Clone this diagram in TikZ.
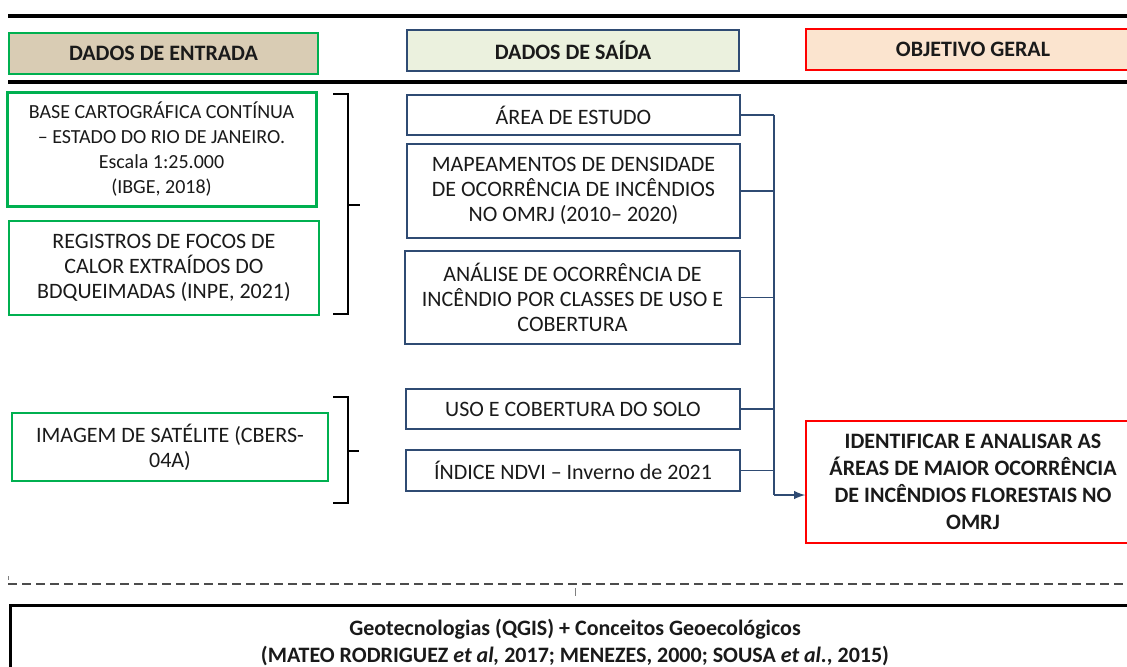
\documentclass[tikz,border=0pt]{standalone}
\usepackage{fontspec}
\setmainfont{Carlito}
\usepackage{tikz}
\usetikzlibrary{arrows}
\definecolor{tan}{HTML}{D9CCB4}
\definecolor{palegreen}{HTML}{EBF1DE}
\definecolor{peach}{HTML}{FBE4CF}
\definecolor{ingreen}{HTML}{00B050}
\definecolor{navy}{HTML}{2F4B73}
\definecolor{ink}{HTML}{1A1A1A}

\begin{document}
\begin{tikzpicture}[x=0.5pt,y=-0.5pt,
  box/.style={draw,inner sep=0pt,align=center,text=ink,font=\fontsize{11}{12.6}\selectfont},
  inbox/.style={box,draw=ingreen,line width=0.6pt},
  outbox/.style={box,draw=navy,line width=0.8pt},
  objbox/.style={box,draw=red,line width=0.8pt,font=\fontsize{11}{13.4}\selectfont\bfseries},
  head/.style={font=\fontsize{11}{12}\selectfont\bfseries},
  link/.style={navy,line width=0.9pt}]
\useasboundingbox (0,0) rectangle (1127,666);
\clip (0,0) rectangle (1127,666);
% rules
\draw [line width=1.6pt] (8,16) -- (1127,16);
\draw [line width=1.6pt] (8,82) -- (1127,82);
% headers
\node [inbox,head,fill=tan,minimum width=154.5pt,minimum height=20.5pt] (hin) at (163.5,53.5) {DADOS DE ENTRADA};
\node [outbox,head,fill=palegreen,minimum width=166pt,minimum height=20.5pt] (hout) at (573,50.5) {DADOS DE SAÍDA};
\node [objbox,fill=peach,minimum width=167pt,minimum height=20.5pt] (hobj) at (973,49.5) {OBJETIVO GERAL};
% entrada
\node [inbox,line width=1.5pt,minimum width=154.5pt,minimum height=57pt,font=\fontsize{10}{12.4}\selectfont] (base) at (161.5,149)
  {BASE CARTOGRÁFICA CONTÍNUA\\ -- ESTADO DO RIO DE JANEIRO.\\ Escala 1:25.000\\ (IBGE, 2018)};
\node [inbox,minimum width=155pt,minimum height=47pt] (focos) at (164,268)
  {REGISTROS DE FOCOS DE\\ CALOR EXTRAÍDOS DO\\ BDQUEIMADAS (INPE, 2021)};
\node [inbox,minimum width=158pt,minimum height=34pt] (sat) at (170,447)
  {IMAGEM DE SATÉLITE (CBERS-\\ 04A)};
% brackets
\draw [line width=0.8pt] (333,94) -- (348,94) -- (348,314) -- (333,314);
\draw [line width=0.8pt] (348,205) -- (360,205);
\draw [line width=0.8pt] (333,397) -- (348,397) -- (348,503) -- (333,503);
\draw [line width=0.8pt] (348,451) -- (359,451);
% saida
\node [outbox,minimum width=166.5pt,minimum height=20pt] (area) at (573.5,115) {ÁREA DE ESTUDO};
\node [outbox,minimum width=166.5pt,minimum height=47pt] (dens) at (573.5,191)
  {MAPEAMENTOS DE DENSIDADE\\ DE OCORRÊNCIA DE INCÊNDIOS\\ NO OMRJ (2010-- 2020)};
\node [outbox,minimum width=167.5pt,minimum height=46.5pt] (usos) at (572.5,297.5)
  {ANÁLISE DE OCORRÊNCIA DE\\ INCÊNDIO POR CLASSES DE USO E\\ COBERTURA};
\node [outbox,minimum width=167pt,minimum height=20pt] (solo) at (573,409) {USO E COBERTURA DO SOLO};
\node [outbox,minimum width=167pt,minimum height=20.5pt] (ndvi) at (573,470.5) {ÍNDICE NDVI -- Inverno de 2021};
% objetivo
\node [objbox,minimum width=167pt,minimum height=61pt] (obj) at (973,482)
  {IDENTIFICAR E ANALISAR AS\\ ÁREAS DE MAIOR OCORRÊNCIA\\ DE INCÊNDIOS FLORESTAIS  NO\\ OMRJ};
% ligacoes
\coordinate (trunk) at (774,115);
\coordinate (foot) at (774,495);
\draw [link] (area.east) -- (area.east -| trunk);
\draw [link] (dens.east) -- (dens.east -| trunk);
\draw [link] (usos.east) -- (usos.east -| trunk);
\draw [link] (solo.east) -- (solo.east -| trunk);
\draw [link] (ndvi.east) -- (ndvi.east -| trunk);
\draw [link] (trunk) -- (foot);
\draw [link,-latex] (foot) -- (foot -| obj.west);
% base
\draw [gray!60!black,line width=0.6pt,dash pattern=on 4.5pt off 2.5pt] (8,584) -- (1127,584);
\draw [gray,line width=0.5pt] (8,576) -- (8,580);
\draw [gray,line width=0.5pt] (575,588) -- (575,596);
\node [draw,line width=1.5pt,inner sep=0pt,minimum width=565pt,minimum height=37.5pt,align=center,text=ink,
  font=\fontsize{11}{13.4}\selectfont\bfseries] (geo) at (575,642.5)
  {Geotecnologias (QGIS) + Conceitos Geoecológicos\\ (MATEO RODRIGUEZ \textit{et al,} 2017; MENEZES, 2000; SOUSA \textit{et al.}, 2015)};
\end{tikzpicture}
\end{document}
